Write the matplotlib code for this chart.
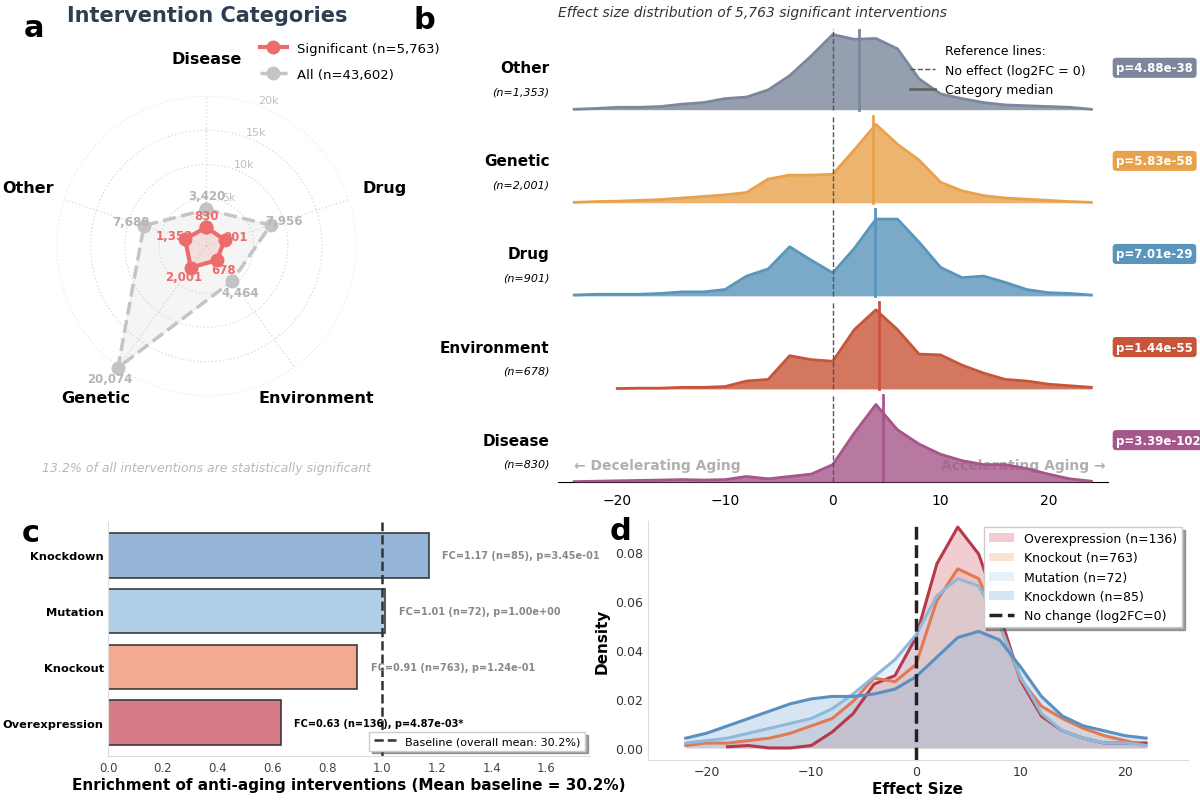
import numpy as np
import matplotlib
matplotlib.use("Agg")
import matplotlib.pyplot as plt
from matplotlib.lines import Line2D

# ---------------- data ----------------
radar_cats = ["Disease", "Drug", "Environment", "Genetic", "Other"]
radar_all = [3420, 7956, 4464, 20074, 7688]
radar_sig = [830, 901, 678, 2001, 1353]

ridge_cats = ["Other", "Genetic", "Drug", "Environment", "Disease"]
ridge_n = ["1,353", "2,001", "901", "678", "830"]
ridge_p = ["p=4.88e-38", "p=5.83e-58", "p=7.01e-29", "p=1.44e-55", "p=3.39e-102"]
ridge_median = [2.4, 3.7, 3.9, 4.3, 4.7]
ridge_x = list(range(-24, 25, 2))
ridge_other = [0.005, 0.015, 0.03, 0.03, 0.04, 0.07, 0.09, 0.14, 0.16, 0.25, 0.43, 0.68, 0.95, 0.89, 0.9, 0.77, 0.39, 0.2, 0.14, 0.09, 0.06, 0.05, 0.04, 0.03, 0.005]
ridge_genetic = [0.005, 0.015, 0.02, 0.03, 0.04, 0.06, 0.08, 0.1, 0.13, 0.3, 0.35, 0.35, 0.36, 0.67, 0.99, 0.74, 0.54, 0.26, 0.15, 0.09, 0.06, 0.045, 0.03, 0.015, 0.005]
ridge_drug = [0.01, 0.02, 0.02, 0.02, 0.03, 0.05, 0.05, 0.08, 0.25, 0.34, 0.62, 0.45, 0.29, 0.6, 0.97, 0.97, 0.68, 0.36, 0.23, 0.25, 0.17, 0.08, 0.04, 0.03, 0.01]
ridge_env = [np.nan, np.nan, 0.005, 0.01, 0.01, 0.02, 0.02, 0.03, 0.1, 0.12, 0.42, 0.37, 0.35, 0.75, 1.0, 0.75, 0.44, 0.43, 0.3, 0.2, 0.12, 0.1, 0.06, 0.04, 0.02]
ridge_disease = [0.005, 0.01, 0.015, 0.02, 0.025, 0.03, 0.025, 0.03, 0.07, 0.04, 0.07, 0.1, 0.22, 0.62, 0.98, 0.66, 0.48, 0.35, 0.27, 0.22, 0.22, 0.17, 0.1, 0.04, 0.01]
ridge_colors = ["#7c879c", "#e9a24c", "#5a95bb", "#c8553a", "#a5568a"]

bar_cats = ["Knockdown", "Mutation", "Knockout", "Overexpression"]
bar_fc = [1.17, 1.01, 0.91, 0.63]
bar_labels = ["FC=1.17 (n=85), p=3.45e-01", "FC=1.01 (n=72), p=1.00e+00",
              "FC=0.91 (n=763), p=1.24e-01", "FC=0.63 (n=136), p=4.87e-03*"]
bar_colors = ["#8fb1d6", "#abcde6", "#f2a68a", "#d4747e"]

kde_x = list(range(-22, 23, 2))
kde_over = [np.nan, np.nan, 0.0005, 0.001, 0.0, 0.0, 0.001, 0.0065, 0.014, 0.026, 0.0295, 0.045, 0.075, 0.09, 0.079, 0.0545, 0.0275, 0.013, 0.007, 0.004, 0.002, 0.002, 0.002]
kde_ko = [0.001, 0.002, 0.002, 0.003, 0.004, 0.006, 0.009, 0.012, 0.019, 0.0285, 0.027, 0.034, 0.06, 0.073, 0.069, 0.05, 0.028, 0.017, 0.012, 0.008, 0.005, 0.003, 0.001]
kde_mut = [0.002, 0.003, 0.004, 0.006, 0.008, 0.010, 0.012, 0.016, 0.022, 0.029, 0.036, 0.046, 0.062, 0.069, 0.066, 0.05, 0.029, 0.014, 0.007, 0.004, 0.002, 0.002, 0.001]
kde_kd = [0.004, 0.006, 0.009, 0.012, 0.015, 0.018, 0.020, 0.021, 0.021, 0.022, 0.024, 0.029, 0.037, 0.045, 0.0475, 0.044, 0.033, 0.021, 0.013, 0.009, 0.007, 0.005, 0.004]
kde_names = ["Overexpression (n=136)", "Knockout (n=763)", "Mutation (n=72)", "Knockdown (n=85)"]
kde_line_colors = ["#b5394a", "#e07a55", "#8db9dc", "#5a8fc2"]
kde_fill_colors = ["#d9727f", "#f4a98c", "#bcd8ee", "#8fb6dc"]

fig = plt.figure(figsize=(12, 8.03), dpi=100)

# ---------------- panel a ----------------
axa = fig.add_axes([0.047, 0.505, 0.25, 0.375], projection="polar")
ang = np.linspace(0, 2 * np.pi, len(radar_cats), endpoint=False)
angc = np.append(ang, ang[0])
axa.set_theta_offset(np.pi / 2)
axa.set_theta_direction(-1)
axa.set_ylim(-1900, 20000)
allc = radar_all + radar_all[:1]
sigc = radar_sig + radar_sig[:1]
axa.fill(angc, allc, color="#d0d0d0", alpha=0.2, zorder=2)
axa.plot(angc, allc, "--", color="#c4c4c4", lw=2.5, marker="o", ms=9, clip_on=False, zorder=3,
         label="All (n=43,602)")
axa.fill(angc, sigc, color="#f08080", alpha=0.2, zorder=4)
axa.plot(angc, sigc, "-", color="#ec6b6b", lw=3, marker="o", ms=9, clip_on=False, zorder=5,
         label="Significant (n=5,763)")
axa.set_xticks(ang)
axa.set_xticklabels([])
for a, c in zip(ang, radar_cats):
    axa.text(a, 25500, c, ha="center", va="center", fontsize=11.5, fontweight="bold")
axa.set_yticks([5000, 10000, 15000, 20000])
axa.set_yticklabels(["5k", "10k", "15k", "20k"], color="#c0c0c0", fontsize=8)
axa.set_rlabel_position(20)
axa.grid(True, color="#dddddd", ls=":", lw=1)
axa.spines["polar"].set_visible(False)
axa.set_facecolor("white")
for a, v in zip(ang, radar_all):
    axa.text(a, v + 2000, f"{v:,}", ha="center", va="center", fontsize=8.5,
             color="#b5b5b5", fontweight="bold", zorder=6)
for a, v in zip(ang, radar_sig):
    axa.text(a, v + 1700, f"{v:,}", ha="center", va="center", fontsize=8.5,
             color="#ec6b6b", fontweight="bold", zorder=6)
h, l = axa.get_legend_handles_labels()
axa.legend(h[::-1], l[::-1], loc="upper left", bbox_to_anchor=(0.64, 1.22), frameon=False,
           fontsize=9.5, labelspacing=1.0)
fig.text(0.1725, 0.98, "Intervention Categories", ha="center", va="center", fontsize=15,
         fontweight="bold", color="#2c3e50")
fig.text(0.1725, 0.417, "13.2% of all interventions are statistically significant", ha="center",
         va="center", fontsize=9, style="italic", color="#b8b8b8")

# ---------------- panel b ----------------
axb = fig.add_axes([0.465, 0.3985, 0.458, 0.5645])
ridges = [ridge_other, ridge_genetic, ridge_drug, ridge_env, ridge_disease]
scale = 0.85
for i, (name, ys, col) in enumerate(zip(ridge_cats, ridges, ridge_colors)):
    base = 4 - i
    y = np.array(ys, dtype=float)
    xs = np.array(ridge_x, dtype=float)
    m = ~np.isnan(y)
    axb.fill_between(xs[m], base, base + y[m] * scale, color=col, alpha=0.8, lw=0, zorder=2 + i)
    axb.plot(xs[m], base + y[m] * scale, color=col, lw=2, zorder=2 + i)
    axb.plot([0, 0], [base, base + 0.93], color="#555555", ls="--", lw=1, zorder=10)
    axb.plot([ridge_median[i]] * 2, [base, base + 0.93], color=col, lw=2, zorder=10)
    axb.text(-26.3, base + 0.45, name, ha="right", va="center", fontsize=11, fontweight="bold")
    axb.text(-26.3, base + 0.2, f"(n={ridge_n[i]})", ha="right", va="center", fontsize=8, style="italic")
    axb.text(26.3, base + 0.45, ridge_p[i], ha="left", va="center", fontsize=8.5, fontweight="bold",
             color="white", bbox=dict(boxstyle="round,pad=0.3", fc=col, ec="none"))
axb.set_xlim(-25.5, 25.5)
axb.set_ylim(0, 4.87)
axb.set_yticks([])
axb.set_xticks([-20, -10, 0, 10, 20])
axb.tick_params(axis="x", labelsize=10, length=0, pad=8)
for s in ["top", "right", "left"]:
    axb.spines[s].set_visible(False)
axb.spines["bottom"].set_color("black")
axb.text(-24, 0.18, "\u2190 Decelerating Aging", fontsize=10, fontweight="bold", color="#b0b0b0", va="center")
axb.text(25.3, 0.18, "Accelerating Aging \u2192", fontsize=10, fontweight="bold", color="#b0b0b0",
         ha="right", va="center")
axb.text(-25.5, 5.05, "Effect size distribution of 5,763 significant interventions", fontsize=10,
         style="italic", color="#333333", va="center")
hb = [Line2D([], [], color="none"), Line2D([], [], color="#555555", ls="--", lw=1),
      Line2D([], [], color="#666666", lw=2)]
axb.legend(hb, ["Reference lines:", "No effect (log2FC = 0)", "Category median"], loc="upper right",
           bbox_to_anchor=(0.98, 0.99), frameon=False, fontsize=9, handlelength=2)

# ---------------- panel c ----------------
axc = fig.add_axes([0.09, 0.057, 0.402, 0.292])
yp = np.arange(len(bar_cats))[::-1]
axc.barh(yp, bar_fc, color=bar_colors, edgecolor="#333333", lw=1.2, height=0.8, alpha=0.95)
for y, v, t, i in zip(yp, bar_fc, bar_labels, range(4)):
    last = i == 3
    axc.text(v + 0.05, y, t, va="center", fontsize=7,
             color="black" if last else "#888888", fontweight="bold")
axc.axvline(1.0, color="#333333", ls="--", lw=1.8, label="Baseline (overall mean: 30.2%)")
axc.set_yticks(yp)
axc.set_yticklabels(bar_cats, fontsize=8.2, fontweight="bold")
axc.set_xlim(0, 1.76)
axc.set_ylim(-0.6, 3.6)
axc.set_xticks(np.arange(0, 1.61, 0.2))
axc.tick_params(axis="x", labelsize=8.5, colors="#444444", length=0)
axc.tick_params(axis="y", length=0, pad=3)
axc.set_xlabel("Enrichment of anti-aging interventions (Mean baseline = 30.2%)", fontsize=11,
               fontweight="bold", labelpad=2)
for s in ["top", "right"]:
    axc.spines[s].set_visible(False)
for s in ["left", "bottom"]:
    axc.spines[s].set_color("#dddddd")
axc.legend(loc="lower right", fontsize=8, shadow=True, fancybox=False, edgecolor="#cccccc")

# ---------------- panel d ----------------
axd = fig.add_axes([0.54, 0.052, 0.45, 0.298])
kx = np.array(kde_x, dtype=float)
for ys, name, lc, fc in zip([kde_over, kde_ko, kde_mut, kde_kd], kde_names, kde_line_colors, kde_fill_colors):
    y = np.array(ys, dtype=float)
    m = ~np.isnan(y)
    axd.fill_between(kx[m], 0, y[m], color=fc, alpha=0.35, label=name, lw=0)
    axd.plot(kx[m], y[m], color=lc, lw=2.2)
axd.axvline(0, color="#222222", ls="--", lw=2.5, label="No change (log2FC=0)")
axd.set_xlim(-25.6, 26)
axd.set_ylim(-0.005, 0.0925)
axd.set_xticks([-20, -10, 0, 10, 20])
axd.set_yticks([0, 0.02, 0.04, 0.06, 0.08])
axd.tick_params(labelsize=9, length=0, colors="#333333")
axd.set_xlabel("Effect Size", fontsize=11, fontweight="bold", labelpad=2)
axd.set_ylabel("Density", fontsize=11, fontweight="bold")
for s in ["top", "right"]:
    axd.spines[s].set_visible(False)
for s in ["left", "bottom"]:
    axd.spines[s].set_color("#dddddd")
axd.legend(loc="upper right", fontsize=9, shadow=True, fancybox=False, edgecolor="#cccccc")

# panel letters
for lt, x, y in [("a", 0.02, 0.965), ("b", 0.345, 0.975), ("c", 0.018, 0.335), ("d", 0.508, 0.338)]:
    fig.text(x, y, lt, fontsize=22, fontweight="bold", va="center")
fig.savefig("out.png", dpi=100)
